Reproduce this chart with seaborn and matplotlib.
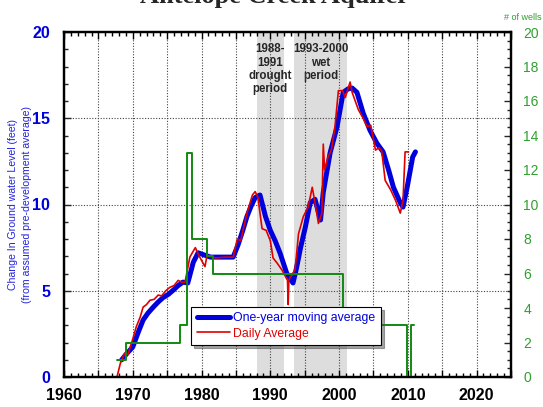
import matplotlib
matplotlib.use("Agg")
import matplotlib.pyplot as plt
from matplotlib.ticker import MultipleLocator, FuncFormatter
import seaborn as sns
import pandas as pd

# One-year moving average of groundwater level change (feet)
avg_year = [1968.4, 1969.0, 1970.0, 1970.8, 1971.5, 1972.2, 1973.0, 1973.7, 1974.4,
            1975.2, 1975.9, 1976.6, 1977.3, 1978.0, 1978.8, 1979.5, 1980.2, 1981.3,
            1983.0, 1984.6, 1985.3, 1986.0, 1986.6, 1987.2, 1987.8, 1988.5, 1989.3,
            1990.0, 1990.7, 1991.4, 1992.4, 1993.3, 1993.8, 1994.4, 1995.1, 1995.8,
            1996.5, 1997.3, 1997.7, 1998.7, 1999.7, 2000.6, 2001.3, 2001.9, 2002.6,
            2003.5, 2004.5, 2005.5, 2006.4, 2007.2, 2007.9, 2008.9, 2009.3, 2009.9,
            2010.7, 2011.1]
avg_level = [1.0, 1.3, 1.74, 2.6, 3.3, 3.7, 4.06, 4.35, 4.6,
             4.8, 5.04, 5.3, 5.5, 5.45, 6.65, 7.2, 7.1, 6.95,
             6.95, 6.95, 7.65, 8.5, 9.3, 9.9, 10.4, 10.55, 9.3,
             8.5, 7.9, 7.2, 6.0, 5.45, 6.3, 7.5, 8.7, 10.1,
             10.3, 9.1, 10.7, 13.0, 14.5, 16.5, 16.7, 16.75, 16.5,
             15.3, 14.3, 13.55, 13.05, 12.0, 11.0, 10.1, 9.85, 11.0,
             12.75, 13.05]

# Daily average groundwater level change (feet)
daily_year = [1967.7, 1968.2, 1968.6, 1968.9, 1969.3, 1969.6, 1970.0, 1970.5, 1971.1,
              1971.5, 1972.0, 1972.5, 1973.1, 1973.7, 1974.2, 1974.8, 1975.4, 1976.0,
              1976.6, 1977.1, 1977.6, 1978.3, 1978.8, 1979.1, 1979.6, 1980.5, 1980.8,
              1982.0, 1983.5, 1984.6, 1985.2, 1985.7, 1986.2, 1986.6, 1987.4, 1987.8,
              1988.2, 1988.8, 1989.4, 1990.0, 1990.4, 1991.0, 1991.7, 1992.5, 1992.6,
              1992.7, 1992.9, 1993.6, 1994.1, 1994.8, 1995.5, 1996.1, 1996.5, 1997.0,
              1997.5, 1997.7, 1997.9, 1998.4, 1998.9, 1999.4, 1999.9, 2000.5, 2000.9,
              2001.6, 2001.9, 2002.8, 2003.5, 2004.1, 2004.6, 2005.3, 2005.8, 2006.2,
              2006.7, 2007.5, 2008.2, 2008.9, 2009.3, 2009.6, 2010.1]
daily_level = [0.0, 0.8, 1.2, 1.4, 1.3, 1.7, 2.2, 2.9, 3.5,
               4.05, 4.2, 4.45, 4.5, 4.75, 4.7, 5.0, 5.2, 5.3,
               5.6, 5.5, 5.5, 6.95, 7.3, 7.5, 7.05, 6.4, 7.05,
               6.9, 6.95, 6.95, 8.0, 7.9, 8.8, 9.5, 10.55, 10.75,
               10.4, 8.6, 8.5, 7.9, 6.9, 6.6, 6.2, 5.6, 4.2,
               5.6, 5.8, 6.2, 8.3, 9.3, 9.85, 11.0, 10.1, 8.9,
               9.5, 13.5, 12.0, 12.75, 13.2, 14.5, 16.6, 16.6, 16.2,
               17.1, 16.5, 15.5, 15.0, 14.5, 14.6, 13.15, 13.3, 13.1,
               11.4, 10.85, 10.25, 9.5, 10.25, 13.05, 13.05]

# Number of wells contributing to the record
wells_year = [1967.7, 1969.0, 1976.9, 1977.9, 1978.6, 1980.8, 1981.7, 2000.6, 2009.9, 2010.4, 2010.9]
wells_count = [1, 2, 3, 13, 8, 7, 6, 3, 0, 3, 3]

# Climate periods
drought_period = (1988.0, 1992.0)
wet_period = (1993.5, 2001.2)

sns.set_style("white")
plt.rcParams["font.family"] = ["Liberation Sans", "DejaVu Sans"]

BLUE = "#0000dd"
RED = "#e00000"
GREEN = "#118a11"
GREEN_TXT = "#2ea02e"

fig = plt.figure(figsize=(5.43, 4.07), dpi=100)
ax = fig.add_axes([64 / 543, 1 - 377 / 407, (511 - 64) / 543, (377 - 32) / 407])
ax2 = ax.twinx()

for lo, hi in (drought_period, wet_period):
    ax.axvspan(lo, hi, color="#dddddd", lw=0, zorder=0.2)

ax.text(1990.0, 19.35, "1988-\n1991\ndrought\nperiod", ha="center", va="top",
        fontsize=8.3, fontweight="bold", linespacing=1.15, zorder=0.3)
ax.text(1997.3, 19.35, "1993-2000\nwet\nperiod", ha="center", va="top",
        fontsize=8.3, fontweight="bold", linespacing=1.15, zorder=0.3)

avg_df = pd.DataFrame({"year": avg_year, "level": avg_level})
daily_df = pd.DataFrame({"year": daily_year, "level": daily_level})
wells_df = pd.DataFrame({"year": wells_year, "wells": wells_count})

sns.lineplot(data=avg_df, x="year", y="level", ax=ax, color=BLUE, lw=3.6,
             estimator=None, sort=False, label="One-year moving average", legend=False, zorder=3)
sns.lineplot(data=daily_df, x="year", y="level", ax=ax, color=RED, lw=1.2,
             estimator=None, sort=False, label="Daily Average", legend=False, zorder=4)
sns.lineplot(data=wells_df, x="year", y="wells", ax=ax2, color=GREEN, lw=1.4,
             estimator=None, sort=False, drawstyle="steps-post", legend=False)

ax.set_xlim(1960, 2025)
ax.set_ylim(0, 20)
ax2.set_ylim(0, 20)

ax.xaxis.set_major_locator(MultipleLocator(5))
ax.xaxis.set_minor_locator(MultipleLocator(1))
ax.xaxis.set_major_formatter(FuncFormatter(lambda v, p: f"{int(round(v))}" if round(v) % 10 == 0 else ""))
ax.yaxis.set_major_locator(MultipleLocator(5))
ax.yaxis.set_minor_locator(MultipleLocator(1))
ax2.yaxis.set_major_locator(MultipleLocator(2))
ax2.yaxis.set_minor_locator(MultipleLocator(0.5))

ax.grid(True, which="major", axis="both", color="#444444", ls=(0, (1, 1.5)), lw=0.8)
ax.set_axisbelow(True)

ax.tick_params(axis="x", which="both", direction="in", top=True, bottom=True,
               labelsize=11.5, pad=8, colors="black", width=1)
ax.tick_params(axis="x", which="major", length=5)
ax.tick_params(axis="x", which="minor", length=3)
ax.tick_params(axis="y", which="both", direction="in", left=True, right=False,
               labelsize=11.5, pad=10, labelcolor=BLUE, width=1)
ax.tick_params(axis="y", which="major", length=5)
ax.tick_params(axis="y", which="minor", length=3)
for lab in ax.get_xticklabels() + ax.get_yticklabels():
    lab.set_fontweight("bold")

ax2.tick_params(axis="y", which="both", direction="in", right=True,
                labelsize=10, pad=9, labelcolor=GREEN_TXT, width=1)
ax2.tick_params(axis="y", which="major", length=5)
ax2.tick_params(axis="y", which="minor", length=3)
ax2.set_ylabel("")
ax.set_xlabel("")
ax.set_ylabel("Change In Ground water Level (feet)\n(from assumed pre-development average)",
              color="#2323dd", fontsize=7.6, linespacing=1.45)
ax.yaxis.set_label_coords((32 - 64) / 447, 0.5)

for a in (ax, ax2):
    for s in a.spines.values():
        s.set_color("black")
        s.set_linewidth(1.6)
ax2.patch.set_visible(False)

handles, labels = ax.get_legend_handles_labels()
leg = ax2.legend(handles, labels, loc="lower left",
                 bbox_to_anchor=((191 - 64) / 447, (377 - 345) / 345),
                 borderaxespad=0, fontsize=8.8, frameon=True, fancybox=False, shadow=True,
                 handlelength=2.7, borderpad=0.45, labelspacing=0.25, handletextpad=0.3)
leg.get_frame().set_edgecolor("black")
leg.get_frame().set_linewidth(0.8)
for txt, col in zip(leg.get_texts(), (BLUE, RED)):
    txt.set_color(col)

fig.text(0.505, 1 - 3 / 407, "Antelope Creek Aquifer", ha="center", va="baseline",
         fontsize=19, fontweight="bold", family="Liberation Serif")
fig.text(541 / 543, 1 - 18 / 407, "# of wells", ha="right", va="center",
         fontsize=6.5, color=GREEN_TXT)

fig.savefig("out.png", dpi=100)
